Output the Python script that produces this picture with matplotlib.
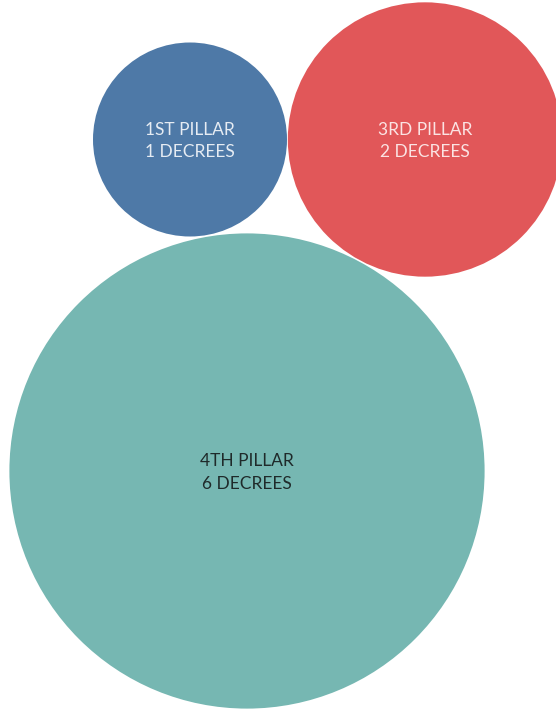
import numpy as np
import matplotlib.pyplot as plt
from matplotlib.patches import Circle

# pillars and how many decrees each one has
pillars = ["1ST PILLAR", "3RD PILLAR", "4TH PILLAR"]
decrees = [1, 2, 6]
colors = ["#4E79A7", "#E15759", "#76B7B2"]
text_colors = ["#e6ecf3", "#fbe3e3", "#1f2a2a"]

# packed layout (pixel space), bubble area follows the decree count
centers = [(190, 139.5), (425, 139.5), (247, 471)]
unit_r = 97.0

fig = plt.figure(figsize=(5.56, 7.12), dpi=100)
ax = fig.add_axes([0, 0, 1, 1])
ax.set_xlim(0, 556)
ax.set_ylim(712, 0)
ax.set_aspect("equal")
ax.axis("off")

for name, n, c, tc, (cx, cy) in zip(pillars, decrees, colors, text_colors, centers):
    r = unit_r * np.sqrt(n)
    ax.add_patch(Circle((cx, cy), r, facecolor=c, edgecolor="none"))
    ax.text(cx, cy + 1.5, "{}\n{} DECREES".format(name, n), color=tc,
            ha="center", va="center", fontsize=12.5, family="Lato",
            linespacing=1.5)

fig.savefig("out.png", dpi=100)
